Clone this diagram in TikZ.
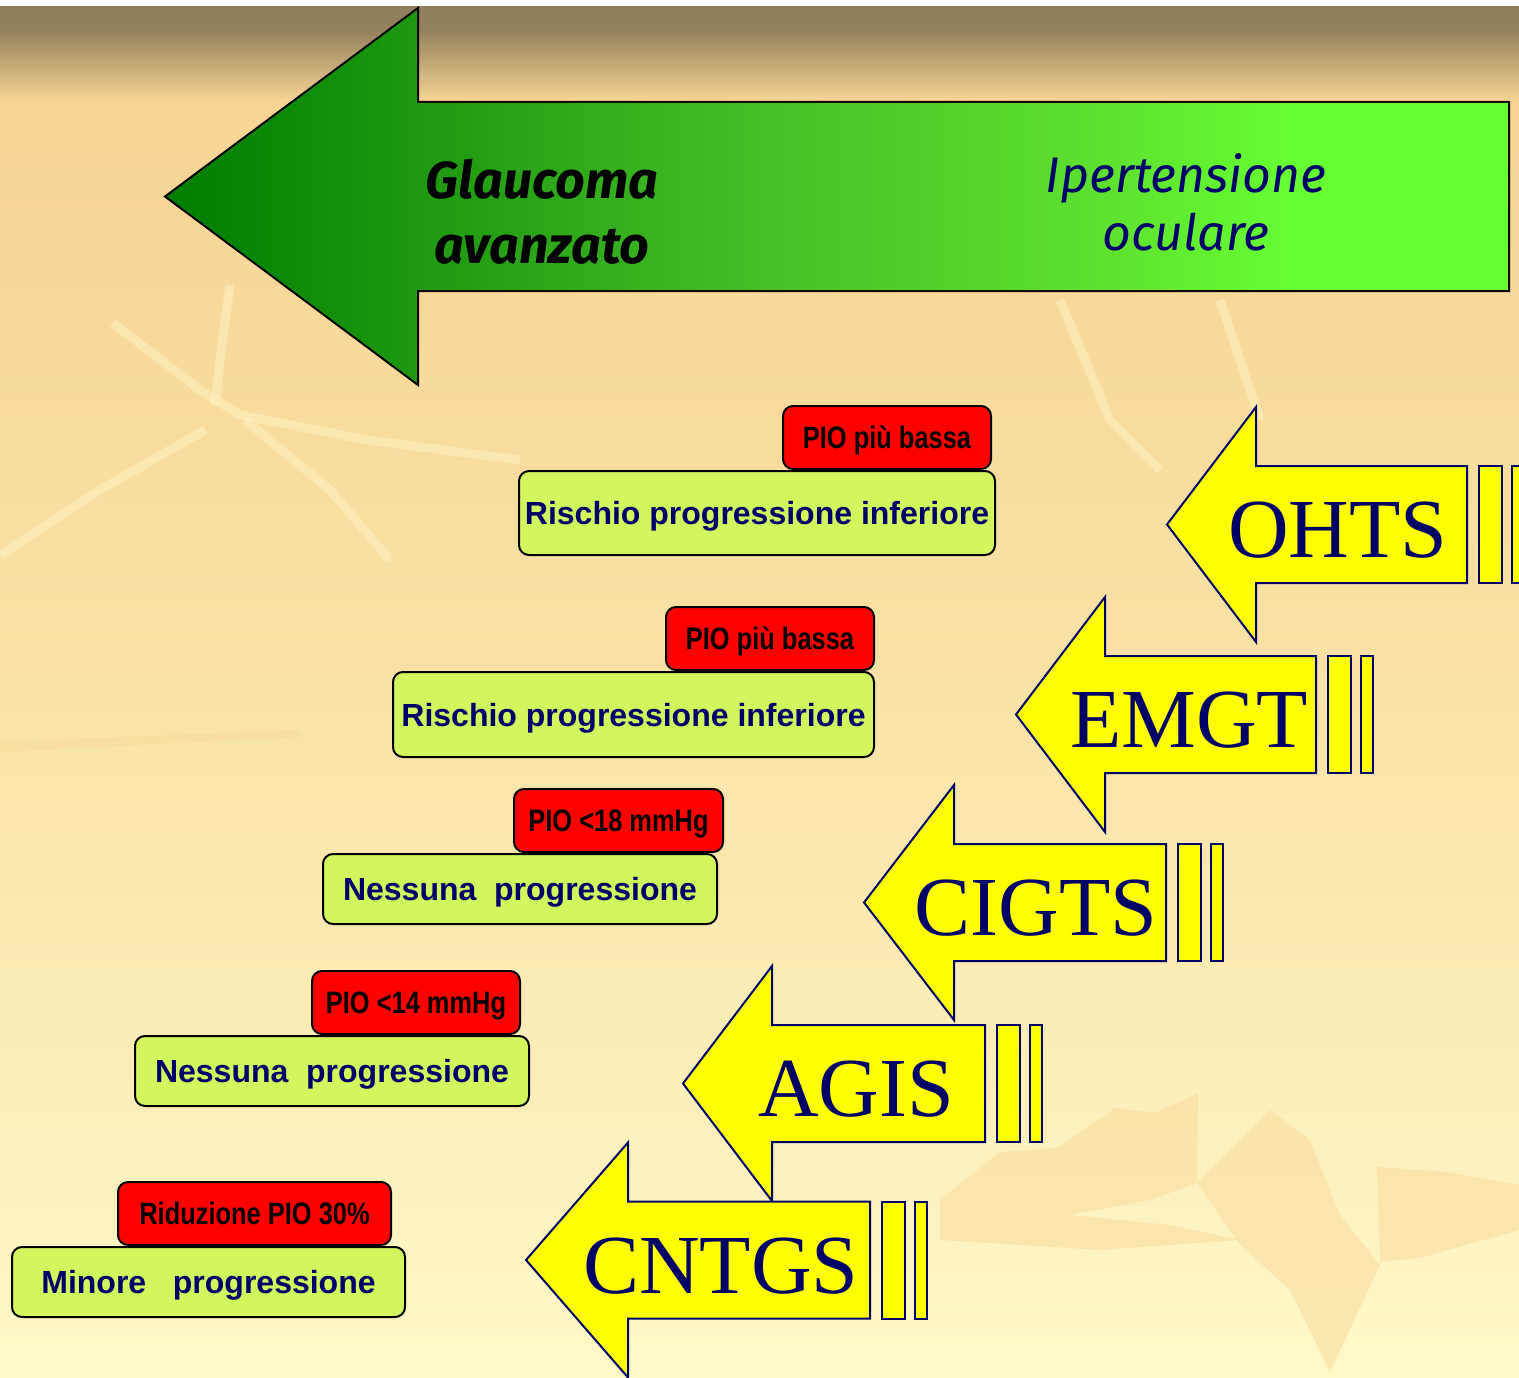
\documentclass[tikz,border=0pt]{standalone}
\usepackage{fontspec}
\setmainfont{Liberation Serif}
\newfontfamily\boxfont{Liberation Sans}
\newfontfamily\narrowfont[FakeStretch=0.82]{Liberation Sans}
\newfontfamily\handfont{Fira Sans}
\usepackage{tikz}
\usetikzlibrary{positioning}

\definecolor{navy}{HTML}{000066}
\definecolor{limebox}{HTML}{D3F65E}
\definecolor{piored}{HTML}{FF0000}
\definecolor{studyyellow}{HTML}{FFFF00}
\definecolor{bgtop}{HTML}{927F5B}
\definecolor{bgtan}{HTML}{F6D494}
\definecolor{bgmid}{HTML}{F9E2A6}
\definecolor{bgbot}{HTML}{FEF8C8}
\definecolor{bgleaf}{HTML}{F8D99B}
\definecolor{bgpale}{HTML}{FFF6C8}
\definecolor{grnA}{HTML}{007C00}
\definecolor{grnB}{HTML}{45BF26}
\definecolor{grnC}{HTML}{5EE12F}
\definecolor{grnD}{HTML}{66FF33}

\pgfdeclareverticalshading{slidebg}{100bp}{color(0bp)=(bgbot); color(25bp)=(bgbot); color(50bp)=(bgmid); color(71.6bp)=(bgtan); color(74.2bp)=(bgtop); color(100bp)=(bgtop)}
\pgfdeclarehorizontalshading{stagearrow}{100bp}{color(0bp)=(grnA); color(25bp)=(grnA); color(47bp)=(grnB); color(60bp)=(grnC); color(67bp)=(grnD); color(100bp)=(grnD)}

\begin{document}
\begin{tikzpicture}[
    x=1pt, y=-1pt,
    labelbox/.style={draw=black, line width=2pt, rounded corners=10pt, fill=limebox, text=navy, font=\boxfont\bfseries\fontsize{32}{36}\selectfont, text height=23pt, text depth=0pt, inner sep=0pt},
    piobox/.style={draw=black, line width=2pt, rounded corners=10pt, fill=piored, text=black, font=\narrowfont\bfseries\fontsize{31}{34}\selectfont, minimum width=208pt, minimum height=63pt, text height=22pt, text depth=0pt, inner sep=0pt},
    studyarrow/.style={draw=navy, line width=2pt, fill=studyyellow, line join=miter},
    studylabel/.style={text=navy, font=\fontsize{84}{90}\selectfont, inner sep=0pt},
    stagetext/.style={font=\handfont\bfseries\itshape\fontsize{52}{56}\selectfont, inner sep=0pt},
    ohtext/.style={text=navy, font=\handfont\itshape\fontsize{50}{54}\selectfont, inner sep=0pt},
    leaf/.style={fill=bgleaf, opacity=0.5},
    streak/.style={draw=bgpale, line width=9pt, line join=bevel, opacity=0.45},
  ]
    \clip (0,0) rectangle (1519,1378);
    \fill[white] (0,0) rectangle (1519,7);
    \fill[shading=slidebg] (0,7) rectangle (1519,1378);

    % background texture
    \draw[streak] (113,323) -- (200,390) -- (240,415) -- (367,440) -- (520,460);
    \draw[streak] (230,285) -- (222,345) -- (215,405);
    \draw[streak] (245,420) -- (330,490) -- (390,560);
    \draw[streak] (205,430) -- (100,490) -- (0,555);
    \draw[streak] (1060,300) -- (1110,420) -- (1160,470);
    \draw[streak] (1220,300) -- (1260,420);
    \fill[leaf] (940,1200) -- (1000,1152) -- (1057,1148) -- (1115,1108) -- (1155,1113) -- (1198,1093)
      -- (1197,1183) -- (1150,1200) -- (1070,1215) -- (1170,1225) -- (1240,1240) -- (1100,1250)
      -- (940,1240) -- cycle;
    \fill[leaf] (1197,1183) -- (1270,1110) -- (1310,1140) -- (1340,1215) -- (1380,1265) -- (1330,1372)
      -- (1290,1290) -- (1240,1245) -- cycle;
    \fill[leaf] (1377,1167) -- (1447,1172) -- (1519,1185) -- (1519,1230) -- (1420,1258) -- (1380,1262) -- cycle;
    \fill[leaf] (0,742) -- (300,730) -- (300,737) -- (0,752) -- cycle;

    % big stage arrow
    \draw[line width=2pt, shading=stagearrow] (165,196.5) -- (418,8) -- (418,102) -- (1509,102)
      -- (1509,291) -- (418,291) -- (418,385) -- cycle;
    \node[stagetext, anchor=base] (glaucoma) at (542,199) {Glaucoma};
    \node[stagetext, anchor=base] (avanzato) at (542,263) {avanzato};
    \node[ohtext, anchor=base] (ipertensione) at (1186,193) {Ipertensione};
    \node[ohtext, anchor=base] (oculare) at (1186,250) {oculare};

    % study arrows
    \foreach \nm/\tipx/\cy/\hx/\rx/\tx in {OHTS/1167/524.5/1256/1467/1338, EMGT/1016/714.5/1105/1316/1189,
        CIGTS/864/902.5/954/1166/1036, AGIS/683/1083.5/772/985/856, CNTGS/526/1260/628/870/721}{
      \draw[studyarrow] (\tipx,\cy) -- (\hx,\cy-117.5) -- (\hx,\cy-58.5) -- (\rx,\cy-58.5)
        -- (\rx,\cy+58.5) -- (\hx,\cy+58.5) -- (\hx,\cy+117.5) -- cycle;
      \draw[studyarrow] (\rx+12,\cy-58.5) rectangle (\rx+35,\cy+58.5);
      \draw[studyarrow] (\rx+45,\cy-58.5) rectangle (\rx+57,\cy+58.5);
      \node[studylabel, anchor=base] (\nm) at (\tx,\cy+33) {\nm};
    }

    % outcome boxes
    \node[labelbox, minimum width=476pt, minimum height=84pt] (risk1) at (757,513) {Rischio progressione inferiore};
    \node[piobox, above left=0pt and 4pt of risk1.north east] (pio1) {PIO più bassa};

    \node[labelbox, minimum width=481pt, minimum height=85pt] (risk2) at (633.5,714.5) {Rischio progressione inferiore};
    \node[piobox, above left=0pt and 0pt of risk2.north east] (pio2) {PIO più bassa};

    \node[labelbox, minimum width=394pt, minimum height=70pt] (none3) at (520,889) {Nessuna\ \ progressione};
    \node[piobox, minimum width=209pt, above left=0pt and -6pt of none3.north east] (pio3) {PIO <18 mmHg};

    \node[labelbox, minimum width=394pt, minimum height=70pt] (none4) at (332,1071) {Nessuna\ \ progressione};
    \node[piobox, above left=0pt and 9pt of none4.north east] (pio4) {PIO <14 mmHg};

    \node[labelbox, minimum width=393pt, minimum height=70pt] (minor5) at (208.5,1282) {Minore\ \ \ progressione};
    \node[piobox, minimum width=273pt, above left=0pt and 14pt of minor5.north east] (pio5) {Riduzione PIO 30\%};
  \end{tikzpicture}
\end{document}
